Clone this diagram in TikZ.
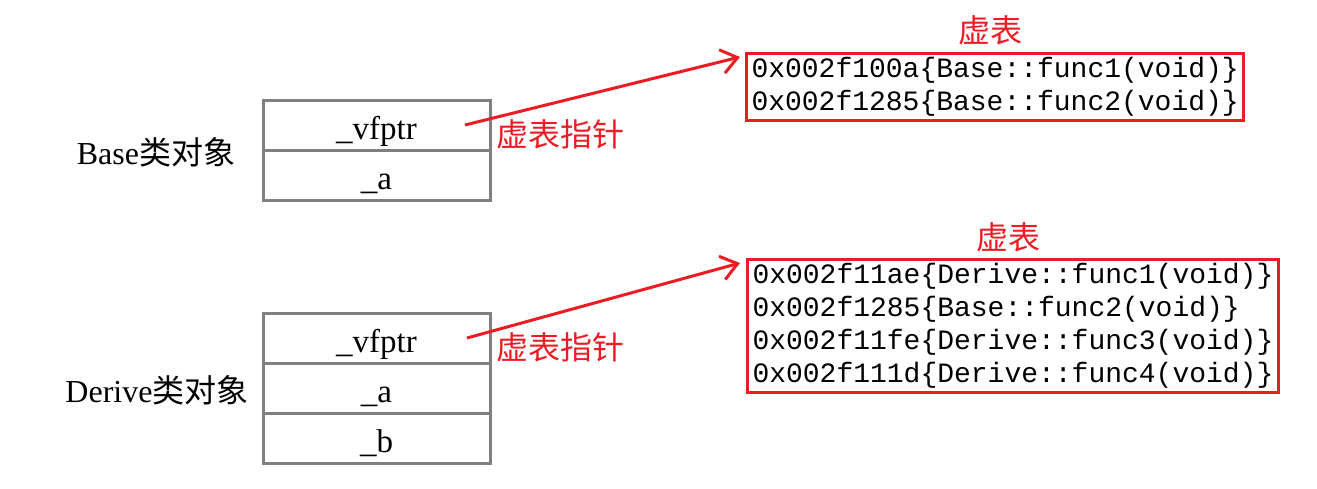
\documentclass[tikz,border=0pt]{standalone}
\usepackage{fontspec}
\setmainfont{Liberation Serif}
\setmonofont{Liberation Mono}
\newfontfamily\cjk{Noto Sans CJK SC}
\usetikzlibrary{arrows.meta,calc}
\definecolor{myred}{RGB}{237,28,36}
\definecolor{mygrey}{RGB}{128,128,128}
\tikzset{
  cell/.style={draw=mygrey,line width=3pt,minimum width=227pt,minimum height=50pt,inner sep=0pt,outer sep=0pt,text height=28pt,text depth=0pt,font=\fontsize{33}{36}\selectfont},
  objlabel/.style={font=\fontsize{32}{34}\selectfont,inner sep=0pt},
  vtable/.style={draw=myred,line width=3pt,anchor=north west,align=left,inner xsep=5pt,inner ysep=4pt,font=\fontsize{28}{33}\ttfamily},
  redlabel/.style={text=myred,font=\fontsize{32}{34}\cjk,inner sep=0pt},
  ptr/.style={draw=myred,line width=3pt,-{Straight Barb[length=16pt,width=24pt,line width=3pt]}}
}
\begin{document}
\begin{tikzpicture}[x=1pt,y=-1pt]
\useasboundingbox (0,0) rectangle (1317,489);
% Base object
\node[cell] (b1) at (376.5,126) {\_vfptr};
\node[cell,anchor=north] (b2) at (b1.south) {\_a};
\node[objlabel] (bl) at (156,152) {Base{\cjk\fontsize{32}{34}\selectfont 类对象}};
% Derive object
\node[cell] (d1) at (376.5,338) {\_vfptr};
\node[cell,anchor=north] (d2) at (d1.south) {\_a};
\node[cell,anchor=north] (d3) at (d2.south) {\_b};
\node[objlabel] (dl) at (157,390) {Derive{\cjk\fontsize{32}{34}\selectfont 类对象}};
% Tables
\node[vtable] (t1) at (745,52) {0x002f100a\{Base::func1(void)\}\\0x002f1285\{Base::func2(void)\}};
\node[redlabel] (t1l) at (990,30) {虚表};
\node[vtable] (t2) at (746,258) {0x002f11ae\{Derive::func1(void)\}\\0x002f1285\{Base::func2(void)\}\\0x002f11fe\{Derive::func3(void)\}\\0x002f111d\{Derive::func4(void)\}};
\node[redlabel] (t2l) at (1008,237) {虚表};
% pointer labels
\node[redlabel,anchor=west] (p1) at (496,134) {虚表指针};
\node[redlabel,anchor=west] (p2) at (496,347) {虚表指针};
% arrows
\coordinate (s1) at ($(b1.east)+(-25,-1)$);
\coordinate (e1) at ($(t1.north west)+(-5,5)$);
\coordinate (s2) at ($(d1.east)+(-23,0)$);
\coordinate (e2) at ($(t2.north west)+(-6,5)$);
\draw[ptr] (s1) -- (e1);
\draw[ptr] (s2) -- (e2);
\end{tikzpicture}
\end{document}
